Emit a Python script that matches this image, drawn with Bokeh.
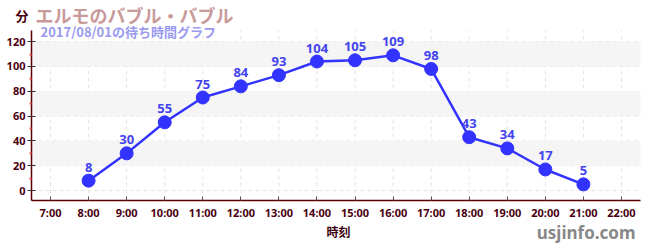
from bokeh.plotting import figure
from bokeh.models import ColumnDataSource, FixedTicker, Label, LabelSet, BoxAnnotation
from bokeh.core.properties import value
from bokeh.embed import file_html
from bokeh.resources import INLINE

hours = [8, 9, 10, 11, 12, 13, 14, 15, 16, 17, 18, 19, 20, 21]
waits = [8, 30, 55, 75, 84, 93, 104, 105, 109, 98, 43, 34, 17, 5]
tick_hours = list(range(7, 23))
tick_labels = [f"{h}:00" for h in tick_hours]
y_ticks = [0, 20, 40, 60, 80, 100, 120]
y_minor = [10, 30, 50, 70, 90, 110]

title_text = "エルモのバブル・バブル"
subtitle_text = "2017/08/01の待ち時間グラフ"
y_unit = "分"
x_label = "時刻"
site = "usjinfo.com"

# layout: plot-area box inside the 650x250 canvas (pixels) and its data extent
W, H = 650, 250
FL, FR, FT, FB = 31, 640, 30, 200
X0, X1 = 6.5, 22.5
Y0, Y1 = -8, 129
sx = (X1 - X0) / (FR - FL)
sy = (Y1 - Y0) / (FB - FT)
x_range = (X0 - FL * sx, X1 + (W - FR) * sx)
y_range = (Y0 - (H - FB) * sy, Y1 + FT * sy)

src = ColumnDataSource(dict(x=hours, y=waits, t=[str(v) for v in waits]))

p = figure(width=W, height=H, output_backend="svg", toolbar_location=None,
           x_range=x_range, y_range=y_range,
           min_border_left=0, min_border_right=0, min_border_top=0, min_border_bottom=0)
p.outline_line_color = None
p.background_fill_color = "white"
p.xgrid.visible = False
p.ygrid.visible = False

jp = "Noto Sans CJK JP"
axis_col = "#5a0000"

# alternating bands
for i in range(1, len(y_ticks) - 1, 2):
    p.add_layout(BoxAnnotation(left=X0, right=X1, bottom=y_ticks[i], top=y_ticks[i + 1],
                               fill_color="#f5f5f5", fill_alpha=1.0, line_color=None,
                               level="underlay"))

# dashed grid lines
p.segment(x0=tick_hours, x1=tick_hours, y0=[Y0] * len(tick_hours), y1=[Y1] * len(tick_hours),
          line_color="#e4e4e4", line_dash="4 3", line_width=1, level="underlay")
p.segment(x0=[X0] * len(y_ticks), x1=[X1] * len(y_ticks), y0=y_ticks, y1=y_ticks,
          line_color="#e4e4e4", line_dash="4 3", line_width=1, level="underlay")

p.xaxis.ticker = FixedTicker(ticks=tick_hours)
p.xaxis.major_label_overrides = {h: l for h, l in zip(tick_hours, tick_labels)}
p.yaxis.ticker = FixedTicker(ticks=y_ticks, minor_ticks=y_minor)
p.xaxis.fixed_location = Y0
p.xaxis.bounds = (X0, X1)
p.yaxis.fixed_location = X0
p.yaxis.bounds = (Y0, Y1)

for ax in (p.xaxis, p.yaxis):
    ax.axis_line_color = axis_col
    ax.axis_line_width = 1.5
    ax.major_label_text_font = "Noto Sans"
    ax.major_label_text_font_style = "bold"
    ax.major_label_text_font_size = "11px"
    ax.major_label_text_color = "#4a0010"

p.xaxis.major_tick_in = 4
p.xaxis.major_tick_out = 0
p.xaxis.major_tick_line_color = "#555555"
p.xaxis.minor_tick_line_color = None
p.xaxis.major_label_standoff = 4

p.yaxis.major_tick_in = 4
p.yaxis.major_tick_out = 4
p.yaxis.major_tick_line_color = "#333333"
p.yaxis.minor_tick_in = 0
p.yaxis.minor_tick_out = 2
p.yaxis.minor_tick_line_color = "#ee5555"
p.yaxis.minor_tick_line_width = 2
p.yaxis.major_label_standoff = 2

p.line("x", "y", source=src, line_color="#3333ff", line_width=2.5)
p.scatter("x", "y", source=src, size=13, fill_color="#3333ff", line_color="#3333ff")

labels = LabelSet(x="x", y="y", text="t", source=src, y_offset=9,
                  text_align="center", text_baseline="bottom",
                  text_font=value("Noto Sans"), text_font_style="bold",
                  text_font_size="13px", text_color="#4444ee")
p.add_layout(labels)

def add_label(text, cx, cy, size, color, font=jp, align="left", baseline="middle"):
    # cx, cy in canvas pixels (top-left origin); screen units have bottom-left origin
    p.add_layout(Label(x=cx, y=H - cy, x_units="screen", y_units="screen",
                       text=text, text_font=font, text_font_style="bold",
                       text_font_size=size, text_color=color,
                       text_align=align, text_baseline=baseline))

add_label(y_unit, 15, 15, "13px", "#4a0010")
add_label(title_text, 35, 14, "18px", "#c89a9a")
add_label(subtitle_text, 40, 31, "13px", "#9a9af0")
add_label(x_label, 338, 231, "12px", "#3a0010", align="center")
add_label(site, 635, 232, "17px", "#888888", font="Noto Sans", align="right")

open("out.html", "w").write(file_html(p, INLINE))
